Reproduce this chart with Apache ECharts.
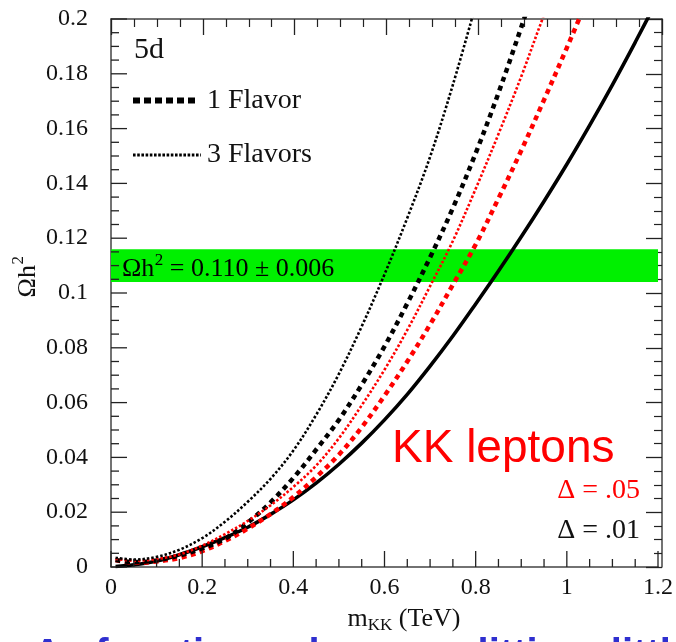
<!DOCTYPE html>
<html><head><meta charset="utf-8">
<script src="https://cdn.jsdelivr.net/npm/echarts@6/dist/echarts.min.js"></script>
<style>html,body{margin:0;padding:0;background:#fff;}#c{width:676px;height:642px;}</style>
</head><body><div id="c"></div>
<script>
// ---- data ----
const mass = [0.01,0.05,0.1,0.15,0.2,0.25,0.3,0.35,0.4,0.45,0.5,0.55,0.6,0.65,0.7,0.75,0.8,0.85,0.9,0.95,1.0,1.05,1.1,1.15,1.2];
// solid black
const solidLine = [0.0002,0.0008,0.0022,0.0045,0.0074,0.0107,0.0145,0.0192,0.0245,0.0306,0.0375,0.0452,0.0537,0.063,0.0733,0.0843,0.096,0.108,0.1205,0.1335,0.147,0.1612,0.176,0.1915,0.2075];
// 1 flavor, delta = .01 (black dashed)
const oneFlavorD01 = [0.0025,0.0018,0.0024,0.0042,0.0068,0.0103,0.0162,0.0236,0.0325,0.0428,0.0537,0.0665,0.0805,0.0962,0.113,0.131,0.151,0.173,0.197,0.222];
// 1 flavor, delta = .05 (red dashed)
const oneFlavorD05 = [0.0025,0.0016,0.002,0.0033,0.0058,0.0095,0.014,0.0193,0.0255,0.0328,0.041,0.051,0.0625,0.075,0.0885,0.103,0.1177,0.1345,0.152,0.1705,0.1895,0.209];
// 3 flavors, delta = .01 (black dotted)
const threeFlavorD01 = [0.0034,0.0027,0.0037,0.0063,0.0105,0.0165,0.0238,0.0322,0.0425,0.0555,0.0705,0.0878,0.1068,0.1274,0.1497,0.176,0.205];
// 3 flavors, delta = .05 (red dotted)
const threeFlavorD05 = [0.003,0.0023,0.0029,0.0046,0.0078,0.012,0.0168,0.0225,0.0292,0.037,0.047,0.059,0.072,0.0865,0.1025,0.119,0.138,0.158,0.179,0.2015,0.222];
const bandRange = [0.104, 0.116];
const xRange = [0, 1.2], xStep = 0.2;
const yRange = [0, 0.2], yStep = 0.02;

function pairs(ys){ return ys.map((v,i)=>[mass[i], v]); }

const SERIFNAME = 'Liberation Serif';
const SERIF = '"Liberation Serif", serif';
const SANS = '"Liberation Sans", sans-serif';
const mctx = document.createElement('canvas').getContext('2d');
function tw(t, font){ mctx.font = font; return mctx.measureText(t).width; }

const chart = echarts.init(document.getElementById('c'), null, {renderer:'canvas'});

const G = {left:111, right:14, top:19, bottom:75};
const axisColor = '#444';

// axes carrying the tick labels and the left/bottom frame lines
function labelAxis(kind, pos){
  const isX = kind === 'x';
  return {type:'value', gridIndex:0, position:pos,
    min: isX ? xRange[0] : yRange[0], max: isX ? xRange[1] : yRange[1], interval: isX ? xStep : yStep,
    axisLine:{show:true, lineStyle:{color:axisColor, width:1.5}},
    axisTick:{show:false}, minorTick:{show:false}, splitLine:{show:false},
    axisLabel:{show:true, margin: isX ? 9 : 23, color:'#111', fontFamily:SERIFNAME, fontSize:24,
      formatter:v=>String(+(+v).toFixed(3))}
  };
}
// axes that draw the top/right frame lines and inward ticks
function tickAxis(kind, pos, grid){
  const isX = kind === 'x';
  return {type:'value', gridIndex:grid, position:pos,
    min: isX ? xRange[0] : yRange[0], max: isX ? xRange[1] : yRange[1], interval: isX ? xStep : yStep,
    axisLine:{show:true, lineStyle:{color:axisColor, width:1.5}},
    axisTick:{show:true, inside:true, length:16, lineStyle:{color:'#222', width:1.3}},
    minorTick:{show:true, splitNumber:4, length:8, lineStyle:{color:'#222', width:1.2}},
    splitLine:{show:false}, axisLabel:{show:false}
  };
}
function hiddenAxis(grid){
  return {type:'value', gridIndex:grid, min:1, max:2, show:false};
}

function lineSeries(name, ys, color, width, dash, z){
  return {name, type:'line', data:pairs(ys), showSymbol:false, smooth:0.35, clip:true, z,
    lineStyle:{color, width, type:dash, cap:'butt'}, emphasis:{disabled:true}, silent:true};
}

// text helpers (graphic)
const graphics = [];
function txt(text, x, y, font, fill, align){
  graphics.push({type:'text', x, y, silent:true, z:100,
    style:{text, font, fill, textAlign:align||'left', textVerticalAlign:'middle'}});
}
// 5d and legend
txt('5d', 134, 50, '30px '+SERIF, '#111');
graphics.push({type:'line', silent:true, z:100, shape:{x1:133,y1:100.5,x2:199,y2:100.5},
  style:{stroke:'#000', lineWidth:6, lineDash:[7,4]}});
txt('1 Flavor', 207, 100.5, '28px '+SERIF, '#111');
graphics.push({type:'line', silent:true, z:100, shape:{x1:133,y1:155,x2:201,y2:155},
  style:{stroke:'#000', lineWidth:3.2, lineDash:[2.6,1.6]}});
txt('3 Flavors', 207, 154.5, '28px '+SERIF, '#111');

// band text Ωh² = 0.110 ± 0.006
(function(){
  const f = '26px '+SERIF, fs = '17px '+SERIF;
  let x = 122, y = 269.5;
  txt('Ωh', x, y, f, '#000'); x += tw('Ωh', f) + 0.5;
  txt('2', x, y-9, fs, '#000'); x += tw('2', fs);
  txt(' = 0.110 ± 0.006', x, y, f, '#000');
})();

// KK leptons & deltas
txt('KK leptons', 392, 449, '46px '+SANS, '#ff0000');
txt('Δ = .05', 640, 490.5, '28px '+SERIF, '#ff0000', 'right');
txt('Δ = .01', 640, 530.5, '28px '+SERIF, '#111', 'right');

// y axis name (rotated)
(function(){
  const f = '26px '+SERIF, fs = '17px '+SERIF;
  const w1 = tw('Ωh', f), w2 = tw('2', fs);
  const x0 = -(w1 + w2)/2;
  graphics.push({type:'group', x:28, y:277, rotation:Math.PI/2, silent:true, children:[
    {type:'text', x:x0, y:0, style:{text:'Ωh', font:f, fill:'#111', textAlign:'left', textVerticalAlign:'middle'}},
    {type:'text', x:x0+w1+0.5, y:-9, style:{text:'2', font:fs, fill:'#111', textAlign:'left', textVerticalAlign:'middle'}}
  ]});
})();
// x axis name m_KK (TeV)
(function(){
  const f = '26px '+SERIF, fs = '17px '+SERIF;
  const w1 = tw('m', f), w2 = tw('KK', fs), w3 = tw(' (TeV)', f);
  let x = 404 - (w1+w2+w3)/2, y = 619;
  txt('m', x, y, f, '#111'); x += w1;
  txt('KK', x, y+7, fs, '#111'); x += w2;
  txt(' (TeV)', x, y, f, '#111');
})();
// clipped slide text at the very bottom
txt('As function, a larger splitting: little', 33, 656, 'bold 40px '+SANS, '#2f2fcf');

const option = {
  animation:false,
  backgroundColor:'#fff',
  textStyle:{fontFamily:SERIFNAME},
  grid:[G, G, G],
  xAxis:[labelAxis('x','bottom'), tickAxis('x','top',1), hiddenAxis(2)],
  yAxis:[labelAxis('y','left'), hiddenAxis(1), tickAxis('y','right',2)],
  series:[
    {type:'line', data:[], silent:true, z:1,
      markArea:{silent:true, itemStyle:{color:'#00f000'},
        data:[[{yAxis:bandRange[0]},{yAxis:bandRange[1]}]]}},
    lineSeries('solid', solidLine, '#000', 3.6, 'solid', 5),
    lineSeries('1 flavor Δ=.05', oneFlavorD05, '#ff0000', 4.5, [5,4.5], 5),
    lineSeries('1 flavor Δ=.01', oneFlavorD01, '#000', 4.5, [5,4.5], 5),
    lineSeries('3 flavors Δ=.05', threeFlavorD05, '#ff0000', 2.6, [2.5,2], 5),
    lineSeries('3 flavors Δ=.01', threeFlavorD01, '#000', 2.6, [2.5,2], 5)
  ],
  graphic:graphics
};
chart.setOption(option);

// inward ticks on the bottom and left edges, positioned through the chart's own scales
(function(){
  const fin = {xAxisIndex:0, yAxisIndex:0};
  const tickStyle = {stroke:'#222', lineWidth:1.3};
  const nx = Math.round((xRange[1]-xRange[0])/(xStep/4));
  for (let i = 0; i <= nx; i++) {
    const v = xRange[0] + i*xStep/4;
    const p = chart.convertToPixel(fin, [v, yRange[0]]);
    if (!p) continue;
    const len = (i % 4 === 0) ? 16 : 8;
    graphics.push({type:'line', silent:true, z:50,
      shape:{x1:p[0], y1:p[1], x2:p[0], y2:p[1]-len}, style:tickStyle});
  }
  const ny = Math.round((yRange[1]-yRange[0])/(yStep/4));
  for (let i = 0; i <= ny; i++) {
    const v = yRange[0] + i*yStep/4;
    const p = chart.convertToPixel(fin, [xRange[0], v]);
    if (!p) continue;
    const len = (i % 4 === 0) ? 16 : 8;
    graphics.push({type:'line', silent:true, z:50,
      shape:{x1:p[0], y1:p[1], x2:p[0]+len, y2:p[1]}, style:tickStyle});
  }
  chart.setOption({graphic:graphics});
})();
</script>
</body></html>
